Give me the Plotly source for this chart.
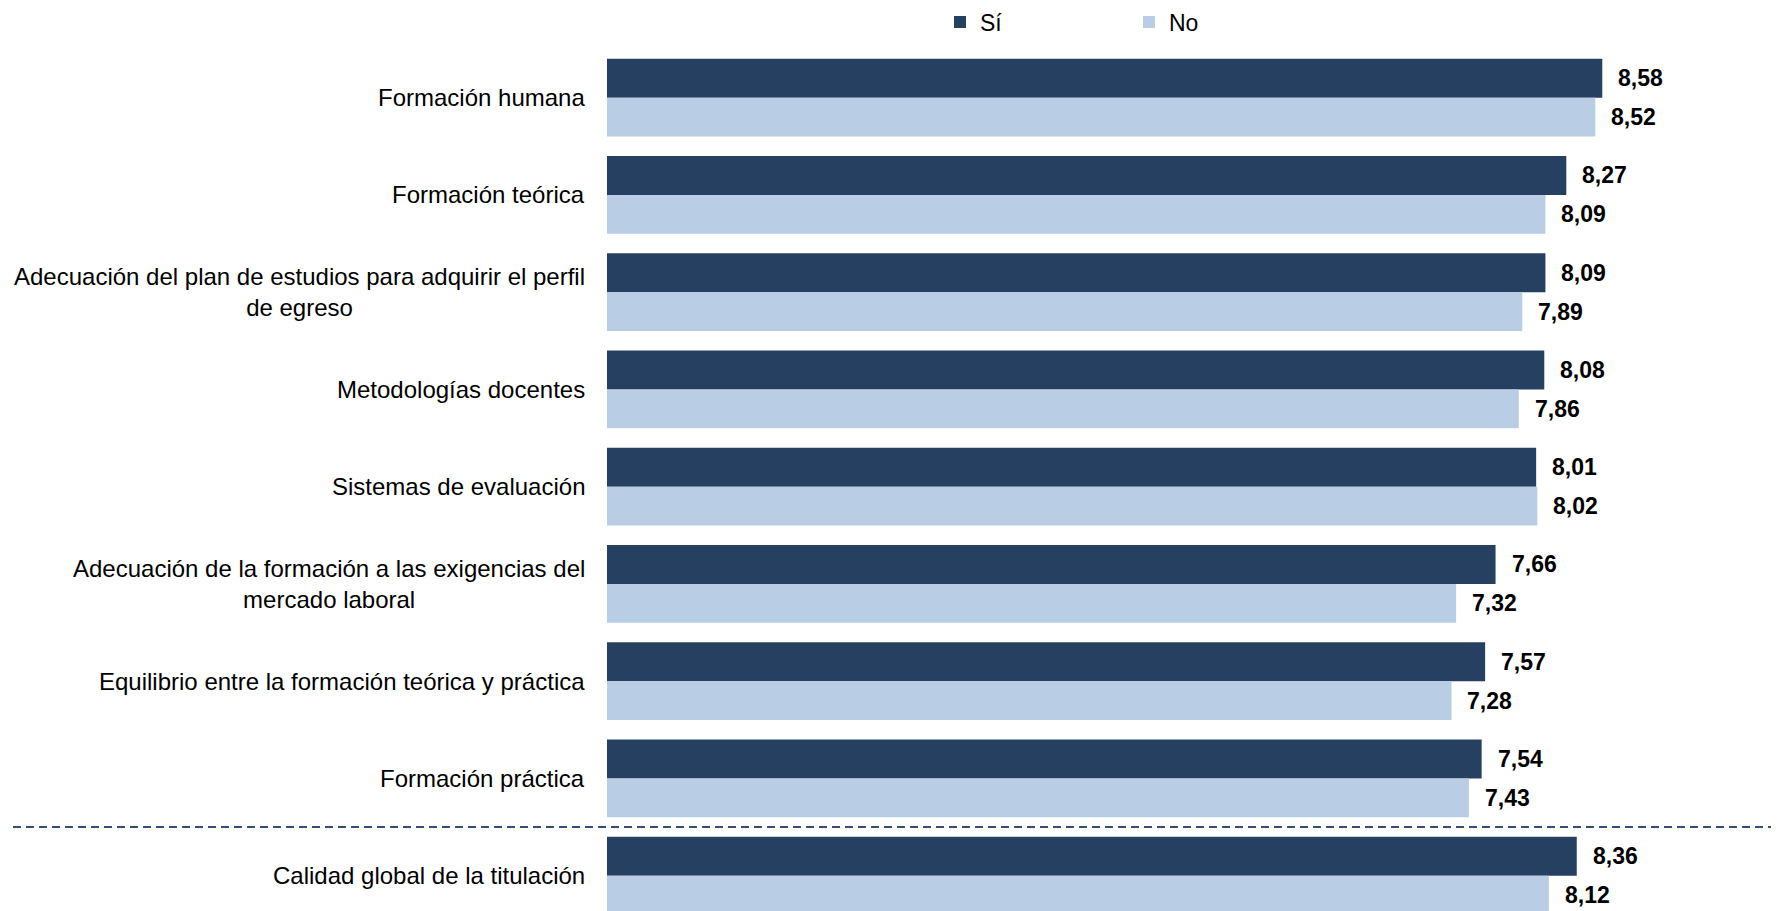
import plotly.graph_objects as go

categories = [
    "Formación humana",
    "Formación teórica",
    "Adecuación del plan de estudios para adquirir el perfil de egreso",
    "Metodologías docentes",
    "Sistemas de evaluación",
    "Adecuación de la formación a las exigencias del mercado laboral",
    "Equilibrio entre la formación teórica y práctica",
    "Formación práctica",
    "Calidad global de la titulación",
]
category_labels = [
    "Formación humana",
    "Formación teórica",
    "Adecuación del plan de estudios para adquirir el perfil<br>de egreso",
    "Metodologías docentes",
    "Sistemas de evaluación",
    "Adecuación de la formación a las exigencias del<br>mercado laboral",
    "Equilibrio entre la formación teórica y práctica",
    "Formación práctica",
    "Calidad global de la titulación",
]
si_values = [8.58, 8.27, 8.09, 8.08, 8.01, 7.66, 7.57, 7.54, 8.36]
no_values = [8.52, 8.09, 7.89, 7.86, 8.02, 7.32, 7.28, 7.43, 8.12]
series_names = ["Sí", "No"]

DARK = "#264062"
LIGHT = "#B9CDE5"
FONT = "Liberation Sans, Arial, sans-serif"

# page body has an 8px default margin; figure size compensates
W, H = 1771, 903
ML, MT = 599, 41
PX_PER_UNIT = 116.0
PITCH = 97.25

fig = go.Figure()
fig.add_trace(go.Bar(
    y=categories, x=si_values, orientation="h", name=series_names[0],
    marker=dict(color=DARK, line=dict(width=0)),
))
fig.add_trace(go.Bar(
    y=categories, x=no_values, orientation="h", name=series_names[1],
    marker=dict(color=LIGHT, line=dict(width=0)),
))

def fmt(v):
    return f"{v:.2f}".replace(".", ",")

annotations = []
for cat, lab in zip(categories, category_labels):
    annotations.append(dict(
        x=0, xref="paper", y=cat, yref="y", text=lab, showarrow=False,
        xanchor="right", yanchor="middle", align="center", xshift=-20,
        font=dict(family=FONT, size=24, color="#000000"),
    ))
for cat, v in zip(categories, si_values):
    annotations.append(dict(
        x=v, xref="x", y=cat, yref="y", text="<b>" + fmt(v) + "</b>", showarrow=False,
        xanchor="left", yanchor="middle", xshift=14, yshift=19.5,
        font=dict(family=FONT, size=23, color="#000000"),
    ))
for cat, v in zip(categories, no_values):
    annotations.append(dict(
        x=v, xref="x", y=cat, yref="y", text="<b>" + fmt(v) + "</b>", showarrow=False,
        xanchor="left", yanchor="middle", xshift=14, yshift=-19.5,
        font=dict(family=FONT, size=23, color="#000000"),
    ))

n = len(categories)
fig.update_layout(
    width=W, height=H,
    margin=dict(l=ML, r=0, t=MT, b=0, pad=0, autoexpand=False),
    paper_bgcolor="white", plot_bgcolor="white",
    barmode="group", bargap=0.2, bargroupgap=0,
    font=dict(family=FONT, size=20, color="#000000"),
    xaxis=dict(range=[0, (W - ML) / PX_PER_UNIT], showgrid=False, zeroline=False,
               showticklabels=False, showline=False, ticks=""),
    yaxis=dict(range=[(H - MT) / PITCH - 0.5, -0.5], showgrid=False, zeroline=False,
               showticklabels=False, showline=False, ticks=""),
    annotations=annotations,
    showlegend=True,
    legend=dict(orientation="h", xref="paper", yref="paper",
                x=(932 - ML) / (W - ML), y=1 + 27 / (H - MT),
                xanchor="left", yanchor="middle",
                entrywidth=144, entrywidthmode="pixels",
                font=dict(family=FONT, size=23, color="#000000"),
                bgcolor="rgba(0,0,0,0)", borderwidth=0),
    shapes=[dict(type="line", xref="paper", yref="y",
                 x0=(5 - ML) / (W - ML), x1=1, y0=n - 1.5, y1=n - 1.5,
                 line=dict(color="#354F73", width=2, dash="8px,5px"))],
)

fig.write_html("out.html")
